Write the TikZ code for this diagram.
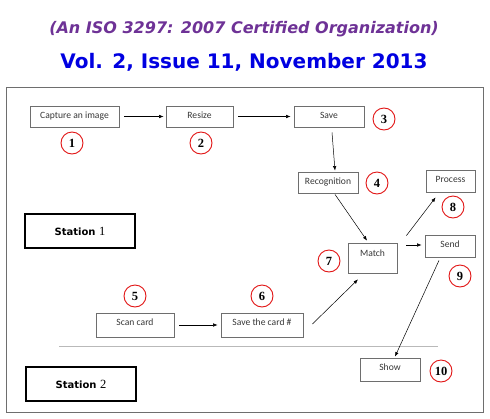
\documentclass[tikz,border=0pt]{standalone}
\usepackage{fontspec}
\usetikzlibrary{arrows.meta,calc}

\newfontfamily\boxfont{Carlito}
\newfontfamily\verdfont{DejaVu Sans}
\newfontfamily\numfont{Liberation Serif}

\definecolor{boxgray}{RGB}{110,110,110}
\definecolor{txtgray}{RGB}{55,55,55}
\definecolor{hdpurple}{RGB}{110,50,150}
\definecolor{hdblue}{RGB}{0,0,225}
\definecolor{numred}{RGB}{225,20,20}

\begin{document}
\begin{tikzpicture}[x=1pt,y=-1pt,
  box/.style={draw=boxgray,line width=0.8pt,inner sep=0pt,text=txtgray,
    text height=6pt,text depth=3pt,font=\boxfont\fontsize{9.6}{11}\selectfont},
  stn/.style={draw=black,line width=1.7pt,minimum width=110pt,minimum height=34pt,
    font=\verdfont\bfseries\fontsize{10}{12}\selectfont},
  num/.style={draw=numred,circle,line width=0.9pt,minimum size=22pt,inner sep=0pt,
    font=\numfont\bfseries\fontsize{12.5}{13}\selectfont},
  arr/.style={-{Latex[length=4.5pt,width=3.5pt]},line width=0.5pt}]
\useasboundingbox (0,0) rectangle (490,418);

% header
\node[text=hdpurple,font=\verdfont\bfseries\itshape\fontsize{16}{18}\selectfont]
  (org) at (244,29) {(An ISO 3297: 2007 Certified Organization)};
\node[text=hdblue,font=\verdfont\bfseries\fontsize{20}{22}\selectfont]
  (vol) at (244,62) {Vol. 2, Issue 11, November 2013};

\draw[boxgray,line width=0.9pt] (6,87) rectangle (483,412);

% station 1
\node[box,minimum width=89pt,minimum height=21pt] (cap) at (74.5,116.5) {Capture an image};
\node[box,minimum width=67pt,minimum height=21pt] (rsz) at (199.5,116.5) {Resize};
\node[box,minimum width=70pt,minimum height=21pt] (sav) at (329,116.5) {Save};
\node[box,minimum width=60pt,minimum height=21pt] (rec) at (328,182.5) {Recognition};
\node[box,minimum width=49pt,minimum height=22pt,text depth=4pt] (prc) at (450.5,181) {Process};
\node[box,minimum width=49pt,minimum height=30pt,text depth=11pt] (mat) at (372.5,258.5) {Match};
\node[box,minimum width=50pt,minimum height=22pt,text depth=4pt] (snd) at (450,246) {Send};

% station 2
\node[box,minimum width=78pt,minimum height=24pt,text depth=6pt] (scn) at (135,325) {Scan card};
\node[box,minimum width=82pt,minimum height=24pt,text depth=6pt] (svc) at (262,325) {Save the card \#};
\node[box,minimum width=60pt,minimum height=23pt,text depth=5pt] (shw) at (390,369.5) {Show};

\node[stn] (st1) at (80,231) {Station {\numfont\mdseries\fontsize{12.5}{12}\selectfont 1}};
\node[stn] (st2) at (81,384) {Station {\numfont\mdseries\fontsize{12.5}{12}\selectfont 2}};

\draw[gray!55,line width=0.5pt] (59,346) -- (438,346);

\foreach \n/\p in {1/{(72,143)},2/{(201,143)},3/{(384,119)},4/{(377,183)},
  5/{(135,296)},6/{(262,296)},7/{(329,261)},8/{(453,207)},9/{(460,276)},10/{(441,371)}}
  \node[num] (n\n) at \p {\n};

% flow
\draw[arr,shorten <=5pt,shorten >=2pt] (cap) -- (rsz);
\draw[arr,shorten <=5pt,shorten >=3pt] (rsz) -- (sav);
\draw[arr] ([shift={(3,5)}]sav.south) -- ([shift={(7,-1)}]rec.north);
\draw[arr] ([shift={(7,1)}]rec.south) -- ([shift={(-5.5,-2.5)}]mat.north);
\draw[arr] ([shift={(9,-7.5)}]mat.north east) -- ([shift={(10,5)}]prc.south west);
\draw[arr] ($(mat.north east |- snd.west)+(9,-1)$) -- ($(snd.west)+(-3,-1)$);
\draw[arr] ([shift={(-11,3)}]snd.south) -- ([shift={(5,-1)}]shw.north);
\draw[arr,shorten <=5pt,shorten >=3pt] (scn) -- (svc);
\draw[arr] ([shift={(9,-1)}]svc.east) -- ([shift={(-14.5,5.5)}]mat.south);
\end{tikzpicture}
\end{document}
